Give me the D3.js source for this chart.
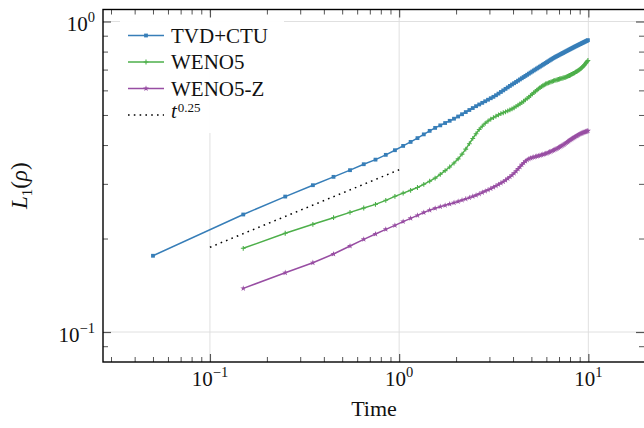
<!DOCTYPE html>
<html><head><meta charset="utf-8">
<script src="https://cdn.jsdelivr.net/npm/d3@7"></script>
<style>body{margin:0;background:#fff} svg{display:block}</style>
</head><body>
<svg id="chart" width="644" height="428"></svg>
<script>
// ---------------- data ----------------
const times = [0.05,0.15,0.25,0.35,0.45,0.55,0.65,0.75,0.85,0.95,
1.05,1.15,1.25,1.35,1.45,1.55,1.65,1.75,1.85,1.95,
2.05,2.15,2.25,2.35,2.45,2.55,2.65,2.75,2.85,2.95,
3.05,3.15,3.25,3.35,3.45,3.55,3.65,3.75,3.85,3.95,
4.05,4.15,4.25,4.35,4.45,4.55,4.65,4.75,4.85,4.95,
5.05,5.15,5.25,5.35,5.45,5.55,5.65,5.75,5.85,5.95,
6.05,6.15,6.25,6.35,6.45,6.55,6.65,6.75,6.85,6.95,
7.05,7.15,7.25,7.35,7.45,7.55,7.65,7.75,7.85,7.95,
8.05,8.15,8.25,8.35,8.45,8.55,8.65,8.75,8.85,8.95,
9.05,9.15,9.25,9.35,9.45,9.55,9.65,9.75,9.85,9.95];

const tvdCtu = [.176,.239,.273,.297,.316,.332,.347,.359,.372,.385,
.3975,.4094,.4211,.4330,.4444,.4543,.4629,.4710,.4788,.4863,
.4943,.5027,.5108,.5187,.5263,.5337,.5405,.5470,.5535,.5598,
.5660,.5720,.5787,.5858,.5929,.5999,.6067,.6134,.6201,.6266,
.6327,.6387,.6447,.6507,.6565,.6623,.6679,.6735,.6792,.6847,
.6901,.6955,.7006,.7058,.7108,.7157,.7207,.7256,.7304,.7351,
.7399,.7447,.7494,.7539,.7584,.7629,.7670,.7707,.7743,.7779,
.7815,.7851,.7886,.7920,.7955,.7990,.8023,.8056,.8090,.8124,
.8157,.8189,.8221,.8253,.8285,.8315,.8344,.8373,.8402,.8431,
.8458,.8487,.8514,.8542,.8570,.8597,.8625,.8653,.8679,.8705];

// WENO runs start at t = 0.15 (times[1] onward)
const weno5 = [.186,.208,.2222,.2334,.2428,.2508,.2576,.2655,.2735,
.280,.286,.292,.299,.306,.313,.322,.331,.340,.350,
.361,.374,.388,.404,.420,.435,.449,.460,.470,.478,
.485,.490,.4955,.5005,.5048,.5083,.5118,.5153,.519,.523,
.5275,.5325,.5375,.5425,.5479,.5536,.5594,.5651,.5711,.5774,
.5836,.5899,.5958,.6012,.6068,.6123,.617,.621,.625,.629,
.6322,.6346,.637,.6394,.6418,.6439,.6457,.6475,.6493,.6511,
.6528,.6544,.656,.6576,.6592,.6611,.6633,.6655,.6677,.6699,
.6724,.6752,.678,.6808,.6836,.6865,.6895,.6925,.6955,.6985,
.7022,.7066,.711,.7154,.7198,.725,.731,.737,.743,.749];

const weno5z = [.1382,.1552,.1672,.1783,.1892,.1988,.2068,.2141,.2205,
.2268,.2323,.2375,.2425,.2468,.2503,.2533,.2558,.2583,.2608,
.2633,.2658,.2683,.2708,.2733,.2758,.2785,.2815,.2843,.2868,
.2895,.2925,.2955,.2985,.3015,.3045,.308,.312,.316,.320,
.3245,.3295,.3348,.3403,.3455,.3505,.3548,.3583,.361,.363,
.3646,.3658,.367,.3682,.3694,.3706,.3718,.373,.3742,.3754,
.3768,.3784,.38,.3816,.3832,.3849,.3867,.3885,.3903,.3921,
.394,.396,.398,.400,.402,.4044,.4068,.4092,.4116,.414,
.416,.418,.420,.422,.424,.4259,.4277,.4295,.4313,.4331,
.4346,.4358,.437,.4382,.4394,.4405,.4415,.4425,.4435,.4445];

const refTimes = [0.1, 1];
const refValues = [0.1874, 0.333];

const seriesNames = ["TVD+CTU", "WENO5", "WENO5-Z"];
const xMajorTicks = [0.1, 1, 10];
const xTickExponents = ["\u22121", "0", "1"];
const yMajorTicks = [0.1, 1];
const yTickExponents = ["\u22121", "0"];
const xLabel = "Time";

// ---------------- layout ----------------
const W = 644, H = 428;
const L = 103, R = 645, T = 9.5, B = 362;
const FONT = "'Liberation Serif','DejaVu Serif',serif";
const colors = ["#377eb8", "#4daf4a", "#984ea3"];

const x = d3.scaleLog().domain([Math.pow(10, -1.5652), Math.pow(10, 1.2995)]).range([L, R]);
const y = d3.scaleLog().domain([Math.pow(10, -1.0966), Math.pow(10, 0.0386)]).range([B, T]);

const svg = d3.select("#chart");
svg.append("rect").attr("width", W).attr("height", H).attr("fill", "#fff");

svg.append("defs").append("clipPath").attr("id", "clip")
  .append("rect").attr("x", L).attr("y", T).attr("width", R - L).attr("height", B - T);

function minorTicks(scale) {
  const [a, b] = scale.domain();
  const out = [];
  for (let k = -3; k <= 2; k++) for (let m = 2; m <= 9; m++) {
    const v = m * Math.pow(10, k);
    if (v > a && v < b) out.push(v);
  }
  return out;
}

// grid
const grid = svg.append("g");
xMajorTicks.forEach(v => grid.append("line").attr("x1", x(v)).attr("x2", x(v)).attr("y1", T).attr("y2", B)
  .attr("stroke", "#dcdcdc").attr("stroke-width", 0.9));
yMajorTicks.forEach(v => grid.append("line").attr("x1", L).attr("x2", R).attr("y1", y(v)).attr("y2", y(v))
  .attr("stroke", "#dcdcdc").attr("stroke-width", 0.9));

// series
const plot = svg.append("g").attr("clip-path", "url(#clip)");
const series = [
  {name: seriesNames[0], t: times, v: tvdCtu, color: colors[0], marker: "square"},
  {name: seriesNames[1], t: times.slice(1), v: weno5, color: colors[1], marker: "plus"},
  {name: seriesNames[2], t: times.slice(1), v: weno5z, color: colors[2], marker: "star"}
];
const line = d3.line().x(d => x(d[0])).y(d => y(d[1]));

function drawMarker(g, type, cx, cy, color) {
  if (type === "square") {
    g.append("rect").attr("x", cx - 1.9).attr("y", cy - 1.9).attr("width", 3.8).attr("height", 3.8).attr("fill", color);
  } else if (type === "plus") {
    g.append("path").attr("d", `M${cx - 2.4},${cy}H${cx + 2.4}M${cx},${cy - 2.4}V${cy + 2.4}`)
      .attr("stroke", color).attr("stroke-width", 1.1).attr("fill", "none");
  } else {
    g.append("path").attr("transform", `translate(${cx},${cy})`)
      .attr("d", d3.symbol(d3.symbolStar, 11)()).attr("fill", color);
  }
}

series.forEach(s => {
  const pts = s.t.map((t, i) => [t, s.v[i]]);
  plot.append("path").attr("d", line(pts)).attr("fill", "none").attr("stroke", s.color).attr("stroke-width", 1.5);
  const mg = plot.append("g");
  pts.forEach(p => drawMarker(mg, s.marker, x(p[0]), y(p[1]), s.color));
});

// reference t^0.25
plot.append("path").attr("d", line(refTimes.map((t, i) => [t, refValues[i]])))
  .attr("fill", "none").attr("stroke", "#000").attr("stroke-width", 1.5).attr("stroke-dasharray", "1.6,4.2");

// legend
const lg = svg.append("g");
lg.append("rect").attr("x", 120).attr("y", 13).attr("width", 164).attr("height", 120).attr("rx", 3)
  .attr("fill", "#fff").attr("fill-opacity", 0.95);
const rowY = [35.5, 62, 88.5, 116.5];
series.forEach((s, i) => {
  lg.append("line").attr("x1", 128).attr("x2", 164).attr("y1", rowY[i]).attr("y2", rowY[i])
    .attr("stroke", s.color).attr("stroke-width", 1.5);
  drawMarker(lg, s.marker, 146, rowY[i], s.color);
  lg.append("text").attr("x", 171).attr("y", rowY[i] + 7).attr("font-family", FONT).attr("font-size", 21)
    .attr("fill", "#111").text(s.name);
});
lg.append("line").attr("x1", 128).attr("x2", 164).attr("y1", rowY[3] - 1.5).attr("y2", rowY[3] - 1.5)
  .attr("stroke", "#000").attr("stroke-width", 1.5).attr("stroke-dasharray", "1.6,4.2");
const refLab = lg.append("text").attr("x", 171).attr("y", rowY[3] + 1).attr("font-family", FONT).attr("font-size", 21).attr("fill", "#111");
refLab.append("tspan").attr("font-style", "italic").text("t");
refLab.append("tspan").attr("font-size", 13).attr("dy", -5.5).attr("dx", 1).text("0.25");

// axes ticks (inward, all four sides)
function styleAxis(g) {
  g.select(".domain").remove();
  g.selectAll(".tick line").attr("stroke", "#555");
  g.selectAll(".tick text").remove();
}
const xMinor = minorTicks(x), yMinor = minorTicks(y);
const axes = svg.append("g");
axes.append("g").attr("transform", `translate(0,${B})`)
  .call(d3.axisBottom(x).tickValues(xMajorTicks).tickSizeInner(-8).tickSizeOuter(0)).call(styleAxis)
  .selectAll(".tick line").attr("stroke-width", 1.2);
axes.append("g").attr("transform", `translate(0,${B})`)
  .call(d3.axisBottom(x).tickValues(xMinor).tickSizeInner(-5).tickSizeOuter(0)).call(styleAxis);
axes.append("g").attr("transform", `translate(0,${T})`)
  .call(d3.axisTop(x).tickValues(xMajorTicks).tickSizeInner(-8).tickSizeOuter(0)).call(styleAxis)
  .selectAll(".tick line").attr("stroke-width", 1.2);
axes.append("g").attr("transform", `translate(0,${T})`)
  .call(d3.axisTop(x).tickValues(xMinor).tickSizeInner(-5).tickSizeOuter(0)).call(styleAxis);
axes.append("g").attr("transform", `translate(${L},0)`)
  .call(d3.axisLeft(y).tickValues(yMajorTicks).tickSizeInner(-8).tickSizeOuter(0)).call(styleAxis)
  .selectAll(".tick line").attr("stroke-width", 1.2);
axes.append("g").attr("transform", `translate(${L},0)`)
  .call(d3.axisLeft(y).tickValues(yMinor).tickSizeInner(-5).tickSizeOuter(0)).call(styleAxis);
axes.append("g").attr("transform", `translate(${R - 1},0)`)
  .call(d3.axisRight(y).tickValues(yMajorTicks).tickSizeInner(-8).tickSizeOuter(0)).call(styleAxis)
  .selectAll(".tick line").attr("stroke-width", 1.2);
axes.append("g").attr("transform", `translate(${R - 1},0)`)
  .call(d3.axisRight(y).tickValues(yMinor).tickSizeInner(-5).tickSizeOuter(0)).call(styleAxis);

// spines
svg.append("rect").attr("x", L).attr("y", T).attr("width", R - L).attr("height", B - T)
  .attr("fill", "none").attr("stroke", "#000").attr("stroke-width", 1.4);

// tick labels
xMajorTicks.forEach((v, i) => {
  const t = svg.append("text").attr("x", x(v)).attr("y", 386).attr("text-anchor", "middle")
    .attr("font-family", FONT).attr("font-size", 21).attr("fill", "#111");
  t.append("tspan").text("10");
  t.append("tspan").attr("font-size", 14.5).attr("dy", -9).text(xTickExponents[i]);
});
yMajorTicks.forEach((v, i) => {
  const t = svg.append("text").attr("x", 95).attr("y", y(v) + 10).attr("text-anchor", "end")
    .attr("font-family", FONT).attr("font-size", 21).attr("fill", "#111");
  t.append("tspan").text("10");
  t.append("tspan").attr("font-size", 14.5).attr("dy", -9).text(yTickExponents[i]);
});

// axis labels
svg.append("text").attr("x", (L + R) / 2).attr("y", 416).attr("text-anchor", "middle")
  .attr("font-family", FONT).attr("font-size", 22).attr("fill", "#111").text(xLabel);
const yl = svg.append("text").attr("transform", `translate(27,${(T + B) / 2}) rotate(-90)`).attr("text-anchor", "middle")
  .attr("font-family", FONT).attr("font-size", 23).attr("fill", "#111");
yl.append("tspan").attr("font-style", "italic").text("L");
yl.append("tspan").attr("font-size", 15).attr("dy", 5).text("1");
yl.append("tspan").attr("dy", -5).text("(");
yl.append("tspan").attr("font-style", "italic").text("\u03c1");
yl.append("tspan").text(")");
</script>
</body></html>
